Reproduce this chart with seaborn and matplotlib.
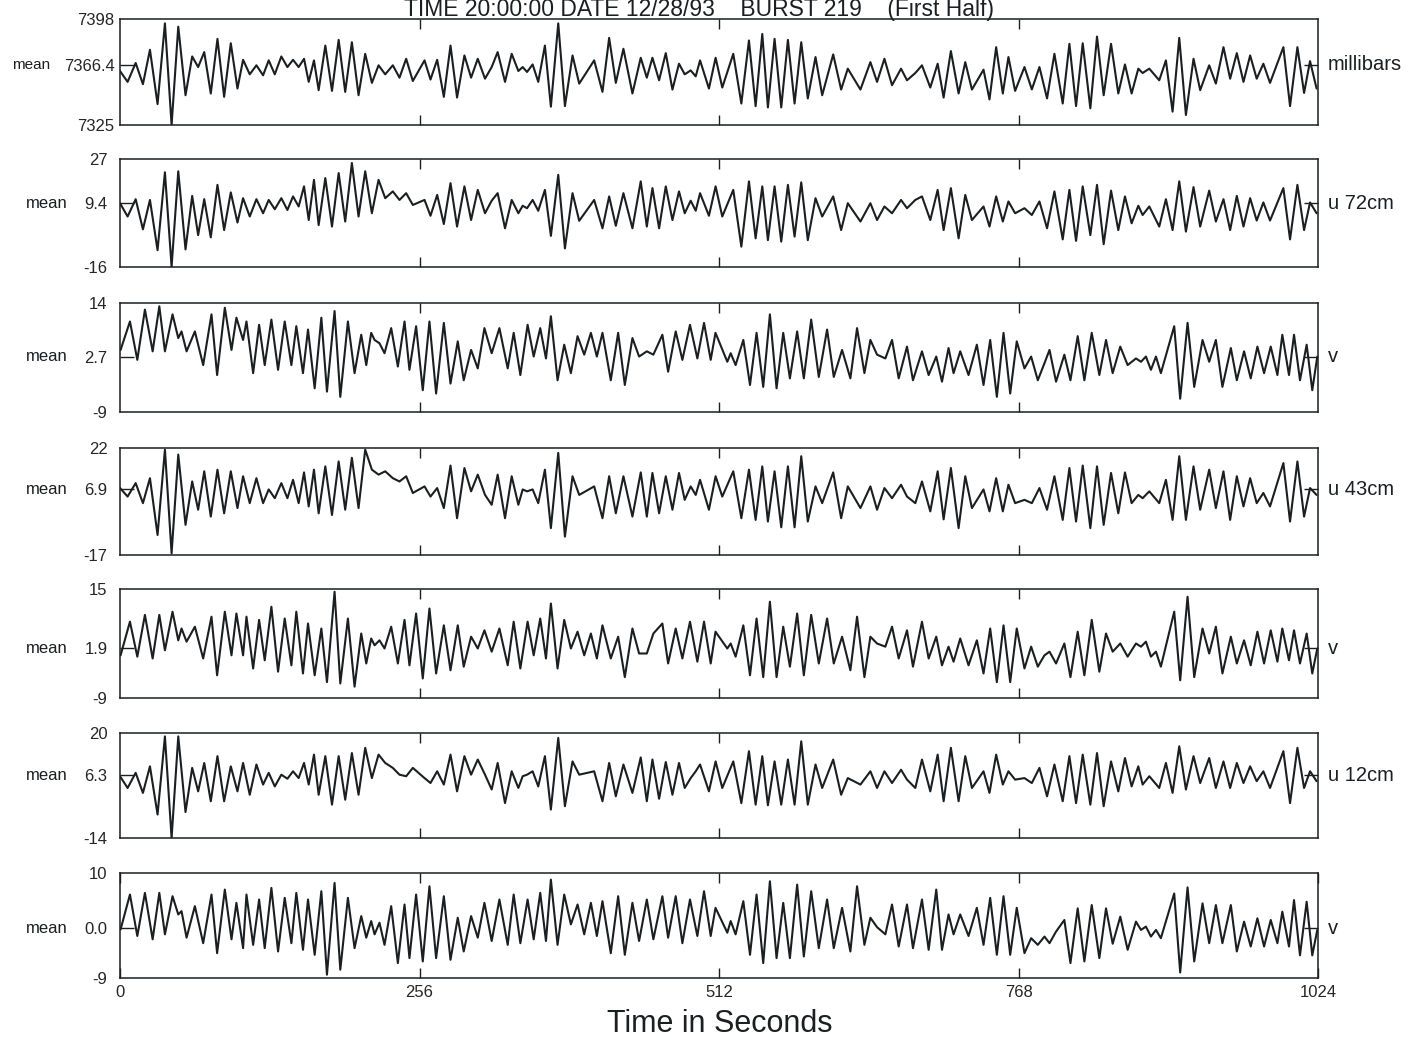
import matplotlib
matplotlib.use('Agg')
import matplotlib.pyplot as plt
import numpy as np
import pandas as pd
import seaborn as sns

# ---- text -------------------------------------------------------------
TITLE = "TIME 20:00:00 DATE 12/28/93    BURST 219    (First Half)"
XLABEL = "Time in Seconds"
X_TICKS = [0, 256, 512, 768, 1024]

CHANNELS = ["millibars", "u 72cm", "v", "u 43cm", "v", "u 12cm", "v"]
MEANS = [7366.4, 9.4, 2.7, 6.9, 1.9, 6.3, 0.0]
MEAN_LABELS = ["7366.4", "9.4", "2.7", "6.9", "1.9", "6.3", "0.0"]
Y_MIN = [7325, -16, -9, -17, -9, -14, -9]
Y_MAX = [7398, 27, 14, 22, 15, 20, 10]

# ---- data: crest / trough times (s) ------------------------------------
# pressure + u channels share one set of crest times, v channels another
T_U = [0, 6.5, 13.4, 19.6, 25.6, 32.1, 38.4, 44.1, 49.8, 56, 61.7, 66.8, 72, 77.6, 83.3, 89, 94.7,
       100.4, 105.2, 110.9, 116.6, 122.3, 127.1, 132.3, 137.9, 143.1, 147.9, 152.7, 157.3, 161.3,
       165.8, 169.8, 175.5, 181.2, 186.9, 192.5, 198.2, 203.9, 209.6, 215.3, 221, 226.7, 233.2,
       238.9, 244.6, 250.3,
       260.3, 265.4, 271.1, 276.8, 282.5, 288.1, 294.4, 300.1, 305.8, 312, 317.7, 322.8, 329.1,
       334.8, 340.5, 344.2, 347.9, 352.7, 357.5, 363.2, 368.3, 374.6, 380.3, 386.8, 392.5, 405.3,
       412.4, 418.1, 423.8, 430.3, 438, 445.1, 450.3, 455.1, 460.8, 466.5, 472.2, 477.8, 482.7,
       487.8, 492.1, 495.8, 503.4, 509.1,
       514.8, 524.2, 531.1, 537.6, 543.3, 549, 553.8, 559.5, 565.2, 570.9, 576.6, 582.3, 587.9,
       594.5, 600.2, 609.6, 616.4, 622.1, 632.9, 641.4, 647.1, 653.4, 659.9, 667.6, 672.7, 679.8,
       685.5, 692.6, 698.9, 704, 710.2, 716.8, 722.5, 728.2, 738.1, 743.2, 748.9, 754.6, 759.4, 765.1,
       773.1, 779.4, 785.9, 792.4, 798.7, 805.8, 811.5, 817.2, 822.9, 829.4, 835.1, 840.8, 847.1,
       853.3, 859, 864.7, 870.4, 874.1, 879.8, 888.3, 894, 899.7, 905.4, 911.1, 917.6, 923.3, 931,
       936.7, 943.2, 948.9, 954.6, 960.3, 966, 971.6, 977.3, 983, 994.4, 1000.1, 1006.4, 1012.1,
       1017.2, 1022.8]

T_V = [0.5, 8.5, 14.8, 21.3, 27.9, 33.6, 38.4, 44.9, 49.8, 52.6, 56.9, 64, 71.1, 78.2, 83, 89.6,
       95.3, 99.5, 105.2, 108.1, 113.8, 118.9, 123.7, 129.4, 135.1, 140.8, 146.5, 150.7, 156.4,
       160.7, 166.4, 172.1, 176.9, 183.4, 188.3, 194.8, 200.5, 206.2, 210.5, 214.7, 217.6, 221.8,
       226.1, 231.8, 237.5, 243.2, 247.4, 253.1, 258.8,
       264.5, 270.2, 276.8, 282.5, 288.7, 293.8, 300.1, 305.8, 311.5, 317.7, 324.3, 331.4, 336.5,
       342.2, 348.4, 353.6, 359.2, 364.1, 368.3, 374, 379.7, 385.4, 391.1, 396.8, 402.5, 407.6,
       412.4, 419.5, 425.8, 431.5, 438, 443.7, 450.3, 455.9, 463.6, 468.5, 475, 480.7, 487.2, 493.5,
       499.2, 504.9, 509,
       519.1, 522, 526.2, 532.8, 538.5, 544.1, 549.8, 555.5, 561.2, 566.9, 572.6, 578.8, 584.5,
       590.8, 597.3, 604.4, 610.1, 617.2, 624.3, 630, 636.3, 641.4, 647.1, 654.2, 659.9, 665.6,
       672.7, 677.8, 685.5, 691.2, 697.7, 702.6, 708.2, 712.5, 718.2, 725.3, 732.4, 738.1, 743.8,
       749.5, 755.2, 760.9, 766.5,
       773.1, 778.8, 784.5, 790.2, 794.5, 800.1, 807.2, 812.4, 818.6, 824.3, 830.6, 837.1, 842.8,
       848.5, 855, 861.3, 868.4, 872.7, 876.9, 881.2, 885.5, 889.7, 901.1, 906.2, 912.5, 918.2,
       925.3, 931, 936.7, 942.3, 949.5, 954.6, 960.8, 966.5, 972.2, 977.9, 983.6, 989.3, 993.5,
       999.2, 1003.5, 1008.6, 1014.3, 1019.1, 1023.4]

# ---- data: departures from the burst mean at those times ----------------
PRESSURE = [-4.2, -11.7, 1.3, -13.3, 10.4, -27, 28.6, -41.4, 26.3, -20.9, 5.8, -1.5, 8.8, -19.7,
            17.9, -22, 14.9, -16.3, 3.5, -6.5, -0.3, -7.2, 3.1, -6.5, 5.8, -1.5, 3.5, -1.5, 4.2,
            -11.7, 3.1, -17.4, 13.3, -17.9, 17.2, -18.6, 15.6, -20.9, 7.6, -12.4, -0.3, -6.5, -0.3,
            -8.8, 4.2, -11.1,
            3.1, -10.1, 3.5, -22, 13.3, -22.5, 6.5, -8.8, 4.2, -9.5, -1.5, 8.8, -11.7, 7.6, -4.2,
            -1.5, -4.9, 0.3, -11.7, 13.3, -28.8, 28.6, -28.4, 6.5, -12.9, 3.1, -18.6, 18.6, -12.4,
            11.1, -19.7, 4.9, -8.8, 4.9, -10.6, 8.1, -17, 0.8, -6.5, -3.8, -7.9, 3.1, -16.3, 4.9,
            -15.6, 7.6, -26.6, 16.8, -28.4, 21.3, -29.3, 17.9, -29.3, 17.2, -26.6, 15.6, -23.1, 5.4,
            -20.9, 7.2, -17, -2.6, -17, 1.9, -11.7, 4.2, -14, -2.6, -10.6, -5.6, -0.3, -15.6, 0.8,
            -22.5, 9.5, -19.7, 1.9, -17, -3.3, -23.8, 12.2, -19.7, 5.4, -17.9,
            -1.5, -16.9, -1.5, -23.1, 7.6, -26.6, 14.5, -28.4, 14.9, -29.9, 19.5, -20.9, 14.5, -19.7,
            0.3, -19.7, -2.6, -5.6, -2.6, -10.6, 3.1, -32.2, 18.6, -34.5, 4.2, -17.4, -0.3, -12.9,
            12.2, -9.5, 8.1, -11.7, 6.5, -9.5, 0.8, -12.4, 12.2, -28.4, 12.2, -19.3, 2.6, -16.3]

U72 = [0, -5.3, 1.6, -10.4, 1.3, -18.7, 12.3, -25.3, 12.7, -18.4, 2.9, -12.7, 1.6, -13.6, 7.3,
       -10.7, 4.3, -7.7, 2, -5.3, 1.6, -4, 1.3, -2.4, 2, -2.7, 2.7, -1.3, 6.7, -6.7, 9.3, -8.7, 10,
       -9.3, 12, -7.3, 16, -5.3, 12.7, -4, 9.3, 2, 4.7, 1.3, 4, -0.7,
       1.3, -5, 3.3, -8.3, 8, -9.3, 6.7, -6.7, 5.3, -4, 1, 4, -10, 1.3, -4, -1, -2, 1.3, -3, 5.3,
       -13, 11.3, -18, 4, -7, 1.3, -10, 2.7, -9, 4, -10, 8.7, -9.3, 6, -10, 6.7, -6.7, 4.7, -4, 1,
       -3, 4, -5, 6.7,
       -5.3, 5.3, -17.3, 8.7, -14, 6.7, -14.7, 6.7, -15.3, 7.3, -13.3, 8.3, -14.7, 2, -5.3, 2.7,
       -10.7, 0, -7.3, 0, -6.7, -1.3, -4, 1.3, -2, 1.3, 2.7, -6.7, 5.3, -10.7, 6, -14, 3.3, -6.7,
       -1.3, -9.3, 2.7, -7.3, 0.7, -4,
       -2, -4.7, 0.7, -10, 4.7, -14.4, 5.3, -15, 6.7, -12.7, 7.3, -16.3, 5, -10.7, 2.7, -8, -1,
       -4.7, -1.3, -9.3, 1.6, -10.7, 8.7, -11.3, 6.4, -9.3, 5, -7.3, 1.6, -10.7, 2.9, -9.3, 2,
       -6.9, 0.3, -6.9, 6, -14.4, 7.3, -10.7, 0.3, -4]

V_TOP = [1.4, 7.4, -0.7, 9.9, 1.1, 10.6, 1.1, 8.9, 3.9, 5.3, 1.1, 5.3, -1.8, 8.9, -3.9, 10.3, 1.4,
         8.2, 3.5, 7.4, -3.5, 6.7, -1.8, 7.8, -2.8, 7.4, -1.8, 6.4, -3.5, 5.7, -6.7, 8.2, -7.4,
         9.6, -8.5, 7.4, -3.5, 4.6, -1.8, 5, 3.5, 2.8, 0.7, 6, -2.1, 7.4, -2.8, 6.4, -7.1,
         7.4, -7.8, 7.1, -5.7, 3.2, -5, 1.4, -2.5, 6, 0.7, 6, -2.5, 5, -3.9, 6.7, 0, 6, -0.4, 8.5,
         -5, 2.5, -3.5, 4.3, 0.4, 5, 0, 5, -5, 5, -6, 3.9, 0, 1.1, 0.4, 4.6, -3.2, 5.3, -0.7, 6.7,
         -0.4, 7.1, -0.7, 5,
         -1.1, 0.7, -1.8, 3.5, -6, 5, -6.4, 8.9, -6.7, 5, -4.6, 5.3, -4.6, 7.8, -4.3, 5.7, -4.3,
         1.4, -4.6, 6, -3.5, 3.5, 0.4, -0.4, 3.5, -4.6, 2.1, -5, 1.1, -3.9, 0, -5.3, 1.8, -3.5,
         1.1, -3.9, 2.5, -6, 3.5, -8.5, 5, -7.8, 3.2,
         -2.5, 0, -5, -1.4, 1.4, -5.3, 0.4, -5, 4.3, -5, 5, -3.9, 3.5, -3.5, 2.1, -1.8, -0.4, -1.1,
         0, -2.8, 0, -3.5, 6.4, -8.9, 7.1, -6.4, 3.5, -1.1, 3.5, -6.4, 1.8, -5, 1.1, -4.6, 2.1,
         -3.5, 2.1, -3.9, 4.6, -3.9, 4.6, -5, 2.5, -7.1, 0]

U43 = [0.5, -2.6, 2.3, -5, 4.1, -16.6, 14.5, -23.3, 12.7, -12.9, 2.9, -7.4, 6.6, -9.9, 7.2,
       -8.7, 6.6, -6.8, 4.8, -5, 4.1, -5, 0, -3.2, 2.3, -3.2, 3.5, -5, 6.2, -6.2, 7.2, -8.7, 8.4,
       -9.3, 10.2, -7.4, 11.5, -6.8, 14.5, 7.2, 5.4, 6.6, 4.1, 2.9, 4.8, -1.3,
       1.1, -2.6, 0.5, -6.8, 8.7, -10.5, 7.8, -0.7, 5.4, -2, -5.6, 5.4, -10.5, 4.8, -5.6, 0, -0.7,
       0, -5, 7.2, -14.1, 13.3, -17.2, 4.8, -2, 1.1, -10.5, 4.8, -8.7, 4.8, -9.9, 6.2, -9.9, 6,
       -8.7, 4.8, -7.4, 6, -3.8, 1.1, -2, 3.5, -7.4, 4.8,
       -2.6, 6.6, -10.5, 7.2, -11.1, 8.4, -11.7, 6.6, -13.8, 8.4, -13.8, 12.1, -11.7, 1.1, -5,
       6.2, -10.5, 1.1, -6.8, 1.1, -7.4, 0.5, -3.2, 1.7, -2.6, -5, 2.9, -8, 6.6, -10.9, 7.8,
       -14.1, 4.8, -6.8, 0, -8, 4.1, -8, 1.7, -5,
       -3.8, -5, 0.5, -7.4, 4.8, -11.1, 7.8, -11.7, 8.7, -14.1, 8.4, -12.9, 6, -8.7, 6.2, -5, -2,
       -3.2, -0.7, -5, 3.5, -11.1, 12.1, -11.1, 8.4, -7.4, 7.2, -6.8, 6.6, -11.1, 4.8, -6.2, 4.1,
       -5, -1.3, -6.2, 9.6, -11.7, 10.2, -9.9, 0.5, -2]

V_MID = [-1.5, 5.9, -1.8, 7.4, -2.2, 7.4, -0.4, 8.1, 1.8, 4.4, 1.5, 4.8, -2.2, 7, -5.9, 8.1, -1.5,
         7.7, -1.5, 7, -4.4, 6.3, -2.6, 9.2, -5.1, 6.6, -3.7, 8.1, -5.5, 5.5, -5.9, 4.4, -7.4,
         12.5, -7.7, 6.6, -8.4, 3.3, -3.3, 2.2, 0.7, 1.8, 0, 4.8, -3.3, 6.3, -3.7, 7.7, -6.6,
         8.8, -5.5, 5.1, -4.8, 5.1, -4, 2.6, 0, 4, -0.7, 4.4, -3.7, 5.9, -4.4, 5.9, -1.5, 6.6,
         -2.2, 9.9, -4.4, 6.3, 0, 3.7, -1.5, 3.3, -2.2, 5.1, -2.2, 2.6, -6.3, 4.4, -1.1, -1.1, 3.3,
         5.5, -3.3, 4.4, -2.2, 5.9, -2.9, 5.9, -3.3, 3.7,
         0, 1.1, -1.8, 5.1, -5.9, 6.6, -6.3, 10.3, -6.3, 4.8, -4, 7.7, -5.9, 7.4, -3.3, 6.6, -3.3,
         2.6, -4.8, 7, -6.3, 2.6, 1.1, 0.4, 4.8, -2.2, 4, -4, 5.9, -2.2, 2.6, -3.7, 0.4, -2.9, 2.2,
         -3.7, 1.8, -5.5, 4.4, -7.4, 5.1, -7.4, 4.4,
         -4.4, 0.4, -4, -1.5, -0.7, -3.3, 1.1, -6.3, 3.7, -5.9, 6.3, -5.1, 3.3, -0.7, 1.1, -1.8,
         1.1, 0.4, 1.5, -1.8, -0.7, -4, 8.1, -7, 11.4, -6.3, 4.4, -1.1, 4.8, -5.5, 2.6, -3.3, 1.8,
         -3.7, 3.7, -3.3, 4, -2.9, 4.4, -2.6, 4, -3.3, 3.3, -5.5, 0]

U12 = [-0.3, -4.1, 0.8, -5.7, 2.9, -12.7, 12.6, -20.3, 12.6, -11.9, 2.4, -5.2, 4, -8.4, 6.2,
       -8.4, 2.9, -5.2, 4, -6.3, 3.5, -3, 0.8, -3.6, 0.2, -1.1, 1.3, -0.9, 4, -3, 6.7, -6.3, 6.2,
       -9.5, 6.2, -7.9, 7.2, -6.3, 8.9, -0.9, 6.7, 4, 2.4, 0.2, -0.3, 2.4,
       -0.9, -2.5, 1.3, -3, 6.7, -5.2, 6.2, 0.2, 5.1, 0.2, -4.6, 4, -9, 1.3, -4.1, -0.3, 0.2, 1.3,
       -3.6, 6.2, -11.1, 12.1, -10, 4.5, 0.2, 1.3, -8.4, 4, -6.8, 3.5, -5.7, 5.8, -8.4, 5.1, -7.6,
       4.3, -6.3, 4, -4.1, -0.9, 1.3, 3.5, -5.2, 4.5,
       -4.1, 4.5, -9, 7.8, -9.5, 6.2, -9.7, 4.5, -9.5, 5.1, -9.5, 11, -9.5, 3.5, -4.1, 5.1, -6.3,
       -0.9, -3, 1.3, -4.1, 1.3, -2.5, 1.8, -1.4, -4.1, 5.1, -5.2, 6.7, -8.4, 8.9, -8.4, 6.2,
       -4.1, 1.3, -5.7, 6.7, -3, 1.3, -1.4,
       -0.9, -2.5, 2.4, -6.8, 3.5, -8.4, 6.2, -9, 6.7, -9.5, 7.2, -10, 4.5, -5.2, 5.6, -3.6, 2.9,
       -3, -0.3, -4.1, 4, -5.7, 9.4, -4.6, 6.2, -2.5, 5.6, -4.1, 4.5, -4.1, 4, -2.5, 2.9, -1.9,
       1.3, -4.1, 7.8, -9, 8.9, -4.1, 1.3, -1.9]

V_LOW = [-0.2, 6.1, -1.4, 6.4, -2, 6.4, -1.1, 5.8, 2.5, 3.1, -1.7, 4, -2.7, 6.1, -4.5, 7, -2,
         4.6, -3.6, 6.1, -3, 5.2, -3.6, 7.3, -4.2, 5.5, -2.7, 6.4, -3.9, 5.2, -4.8, 6.7, -8.4,
         8.2, -7.5, 5.5, -3.6, 2.2, -1.7, 1.3, -1.1, 1, -3, 4, -6.3, 4.3, -5.4, 6.1, -6,
         7.6, -5.4, 5.8, -5.7, 1.9, -4.2, 2.2, -1.7, 4.6, -2.3, 5.2, -3, 6.1, -2.7, 5.2, -2, 6.4,
         -2.3, 8.8, -3, 6.1, 0.7, 4.3, -1.1, 4.6, -1.4, 4.9, -4.5, 5.8, -4.8, 4.6, -2.3, 5.2, -2,
         5.8, -1.7, 5.8, -2.7, 5.2, -1.4, 6.7, -1.4, 3.7,
         -0.8, 1.3, -1.1, 4.9, -4.8, 6.1, -6.3, 8.5, -5.4, 4.6, -5.4, 7.9, -5.1, 6.7, -3.6, 5.2,
         -3.6, 3.7, -4.2, 7.6, -3, 1.9, 0.2, -1.1, 4.3, -3.3, 4.3, -3.6, 5.2, -3.9, 7, -3.9, 2.5,
         -1.1, 2.5, -1.4, 3.7, -3, 5.5, -4.8, 5.8, -4.8, 3.7,
         -4.5, -1.8, -3, -1.5, -2.7, -0.6, 1.5, -6.3, 3.6, -6, 4.2, -5.4, 3.6, -2.8, 2.1, -3.9,
         1.2, -0.3, 0.3, -1.5, -0.3, -1.8, 6.3, -8, 7.4, -6, 4.5, -2.7, 4.2, -2.7, 4.2, -4.2, 1.2,
         -3.3, 1.8, -3.3, 1.5, -2.7, 3, -3.3, 5.1, -4.9, 4.8, -4.9, -0.3]

SERIES = [(T_U, PRESSURE), (T_U, U72), (T_V, V_TOP), (T_U, U43),
          (T_V, V_MID), (T_U, U12), (T_V, V_LOW)]

# ---- layout (pixels of the 1419 x 1042 page) ---------------------------
FIG_W, FIG_H = 1419, 1042
LEFT, RIGHT = 120, 1318
PANEL_PX = [(19, 125), (159, 267), (303, 412), (448, 555), (589, 698), (733, 838), (873, 978)]
INK = '#1b1f22'

sns.set_style('white')
plt.rcParams['font.family'] = ['Liberation Sans', 'DejaVu Sans']
plt.rcParams['axes.linewidth'] = 1.1

fig = plt.figure(figsize=(FIG_W / 100, FIG_H / 100), dpi=100)

for i, ((t, dev), (top, bot)) in enumerate(zip(SERIES, PANEL_PX)):
    assert len(t) == len(dev), (i, len(t), len(dev))
    ax = fig.add_axes([LEFT / FIG_W, 1 - bot / FIG_H, (RIGHT - LEFT) / FIG_W, (bot - top) / FIG_H])
    df = pd.DataFrame({'t': t, 'value': np.asarray(dev) + MEANS[i]})
    sns.lineplot(data=df, x='t', y='value', ax=ax, color=INK, linewidth=1.5,
                 sort=False, estimator=None, solid_joinstyle='round', solid_capstyle='round')
    ax.set_xlim(0, 1024)
    ax.set_ylim(Y_MIN[i], Y_MAX[i])
    ax.set_xlabel('')
    ax.set_ylabel('')
    for s in ax.spines.values():
        s.set_color(INK)

    # x ticks: inward marks on top and bottom, labels only under the last panel
    last = i == len(SERIES) - 1
    ax.set_xticks(X_TICKS if last else X_TICKS[1:-1])
    ax.tick_params(axis='x', direction='in', length=7, width=1.0, top=True, bottom=True,
                   color=INK, labelbottom=last, labelsize=12, pad=5)

    # y ticks: limits and burst mean, only the mean gets a mark
    ax.set_yticks([Y_MIN[i], MEANS[i], Y_MAX[i]])
    ax.set_yticklabels([str(Y_MIN[i]), MEAN_LABELS[i], str(Y_MAX[i])])
    ax.tick_params(axis='y', direction='in', length=10, width=1.0, left=True, right=True,
                   color=INK, labelsize=12, pad=4 if i == 0 else 9)
    yt = ax.yaxis.get_major_ticks()
    for k in (0, 2):
        yt[k].tick1line.set_visible(False)
        yt[k].tick2line.set_visible(False)

    ax.annotate('mean', xy=(0, MEANS[i]), xycoords=ax.get_yaxis_transform(),
                xytext=(-50 if i == 0 else -38, 0), textcoords='offset points',
                ha='right', va='center', fontsize=12 if i else 11, color=INK)
    ax.annotate(CHANNELS[i], xy=(1, MEANS[i]), xycoords=ax.get_yaxis_transform(),
                xytext=(7, 0), textcoords='offset points',
                ha='left', va='center', fontsize=14.5, color=INK)

# heading sits in the thin strip above the first panel
fig.text(699 / FIG_W, 1 - 16 / FIG_H, TITLE, ha='center', va='baseline',
         fontsize=16.5, color=INK)
fig.text(720 / FIG_W, 1 - 1032 / FIG_H, XLABEL, ha='center', va='baseline',
         fontsize=22, color=INK)

fig.savefig('out.png', dpi=100, facecolor='white')
